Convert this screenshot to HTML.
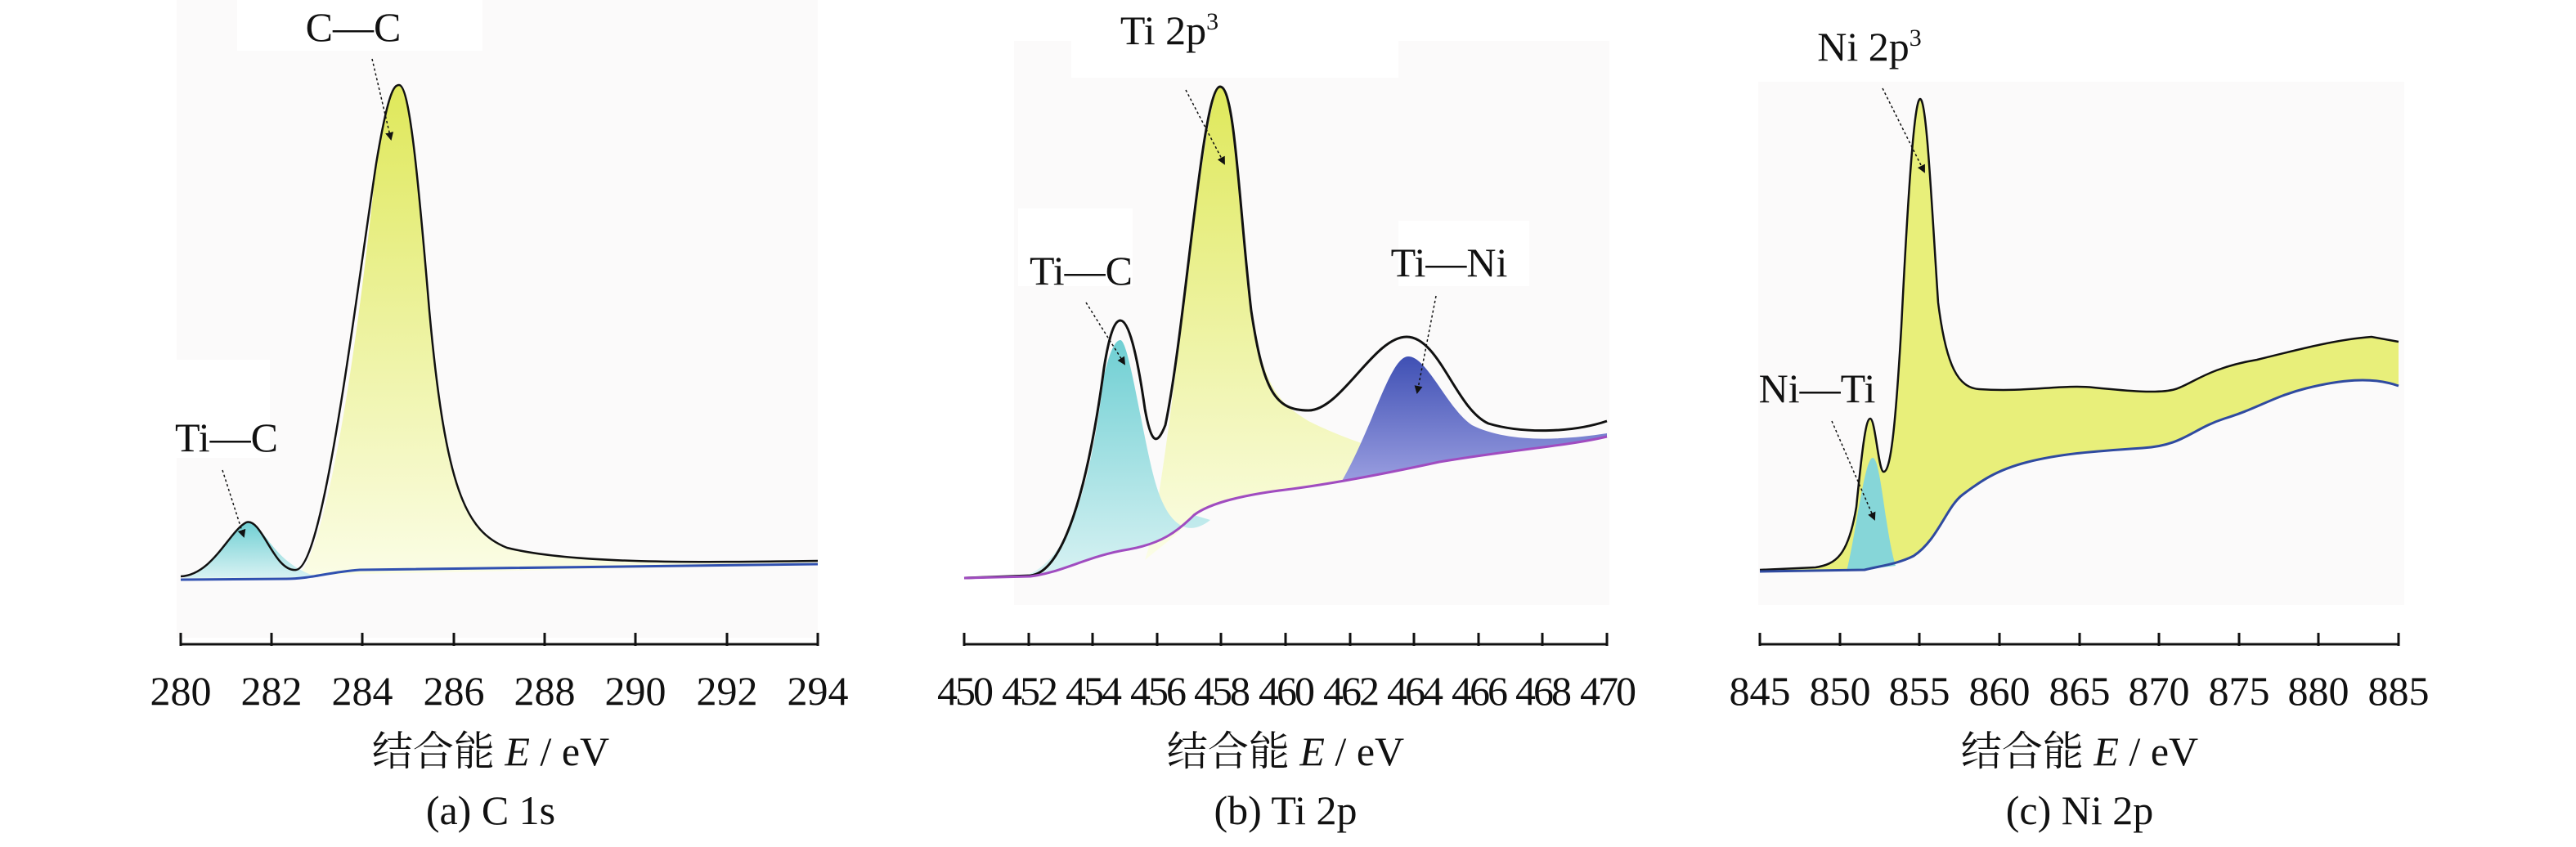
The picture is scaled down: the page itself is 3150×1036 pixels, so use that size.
<!DOCTYPE html>
<html><head><meta charset="utf-8"><style>
html,body{margin:0;padding:0;background:#fff}
svg{display:block}
text{font-family:"Liberation Serif","Noto Serif CJK SC",serif;fill:#111}
</style></head><body>
<svg width="3150" height="1036" viewBox="0 0 3150 1036" xmlns="http://www.w3.org/2000/svg">
<defs>
<linearGradient id="gy" x1="0" y1="0" x2="0" y2="1"><stop offset="0" stop-color="#dfe85a"/><stop offset="1" stop-color="#fbfde6"/></linearGradient>
<linearGradient id="gc" x1="0" y1="0" x2="0" y2="1"><stop offset="0" stop-color="#6fcfd3"/><stop offset="1" stop-color="#d8f2f3"/></linearGradient>
<linearGradient id="gb" x1="0" y1="0" x2="0" y2="1"><stop offset="0" stop-color="#3f50b4"/><stop offset="1" stop-color="#9a9ee0"/></linearGradient>
<marker id="ar" markerWidth="10" markerHeight="10" refX="8" refY="5" orient="auto" markerUnits="userSpaceOnUse"><path d="M0,0 L10,5 L0,10 Z" fill="#111"/></marker>
</defs>
<rect x="216" y="0" width="784" height="780" fill="#fbfafa"/>
<rect x="290" y="0" width="300" height="62" fill="#fff"/>
<rect x="210" y="440" width="120" height="120" fill="#fff"/>
<rect x="1240" y="50" width="728" height="690" fill="#fbfafa"/>
<rect x="1310" y="0" width="400" height="95" fill="#fff"/>
<rect x="1245" y="255" width="140" height="95" fill="#fff"/>
<rect x="1710" y="270" width="160" height="80" fill="#fff"/>
<rect x="2150" y="100" width="790" height="640" fill="#fbfafa"/>
<rect x="2150" y="0" width="600" height="100" fill="#fff"/>

<!-- Panel A -->
<path d="M360,707 C400,690 440,400 460,200 C475,110 482,104 488,104 C500,104 510,200 525,380 C545,600 570,650 620,670 C700,690 850,688 1000,686 L1000,690 L221,707 Z" fill="url(#gy)"/>
<path d="M221,707 C260,703 280,650 301,639 C320,632 330,690 390,706 Z" fill="url(#gc)"/>
<path d="M221,705 C260,703 280,650 301,639 C320,632 335,700 362,697 C395,694 430,400 460,200 C475,110 482,104 488,104 C500,104 510,200 525,380 C545,600 570,650 620,670 C700,690 850,688 1000,686" fill="none" stroke="#111" stroke-width="2.5"/>
<path d="M221,709 L350,708 C380,708 400,700 440,697 L1000,690" fill="none" stroke="#3050b0" stroke-width="3"/>
<text x="432" y="50" font-size="50" text-anchor="middle">C—C</text>
<line x1="455" y1="72" x2="478" y2="170" stroke="#111" stroke-width="1.5" stroke-dasharray="3,3" marker-end="url(#ar)"/>
<text x="277" y="552" font-size="50" text-anchor="middle">Ti—C</text>
<line x1="272" y1="575" x2="298" y2="656" stroke="#111" stroke-width="1.5" stroke-dasharray="3,3" marker-end="url(#ar)"/>

<!-- Panel B -->
<path d="M1400,685 C1430,600 1470,106 1492,106 C1510,106 1515,250 1530,380 C1545,470 1560,490 1600,515 C1650,540 1700,555 1760,565 L1580,598 C1520,605 1480,615 1460,630 C1440,655 1420,668 1400,685 Z" fill="url(#gy)"/>
<path d="M1240,707 C1300,700 1330,620 1350,460 C1358,425 1365,416 1370,416 C1380,416 1395,520 1410,580 C1425,640 1450,660 1480,636 L1460,630 C1440,650 1420,665 1380,672 C1330,680 1300,700 1260,706 Z" fill="url(#gc)"/>
<path d="M1640,590 C1680,520 1700,436 1722,436 C1745,436 1770,500 1800,520 C1840,540 1900,540 1965,530 L1965,534 C1920,545 1850,550 1760,565 Z" fill="url(#gb)"/>
<path d="M1179,707 L1260,704 C1300,700 1330,600 1350,450 C1358,400 1365,392 1370,392 C1380,392 1390,430 1400,500 C1408,545 1415,545 1425,520 C1450,400 1470,106 1492,106 C1510,106 1515,250 1530,380 C1545,480 1560,502 1600,502 C1640,502 1680,412 1720,412 C1760,412 1780,500 1820,518 C1860,530 1920,530 1965,515" fill="none" stroke="#111" stroke-width="3"/>
<path d="M1179,707 L1260,705 C1300,700 1330,680 1380,672 C1420,665 1440,650 1460,630 C1480,615 1520,605 1580,598 C1640,590 1700,578 1760,565 C1850,550 1920,545 1965,534" fill="none" stroke="#a04cc0" stroke-width="3"/>
<text x="1430" y="54" font-size="50" text-anchor="middle">Ti 2p<tspan dy="-18" font-size="30">3</tspan></text>
<line x1="1450" y1="110" x2="1497" y2="200" stroke="#111" stroke-width="1.5" stroke-dasharray="3,3" marker-end="url(#ar)"/>
<text x="1322" y="348" font-size="50" text-anchor="middle">Ti—C</text>
<line x1="1328" y1="370" x2="1375" y2="445" stroke="#111" stroke-width="1.5" stroke-dasharray="3,3" marker-end="url(#ar)"/>
<text x="1772" y="338" font-size="50" text-anchor="middle">Ti—Ni</text>
<line x1="1756" y1="362" x2="1733" y2="480" stroke="#111" stroke-width="1.5" stroke-dasharray="3,3" marker-end="url(#ar)"/>

<!-- Panel C -->
<path d="M2152,697 L2220,694 C2245,690 2260,680 2270,620 C2278,540 2282,512 2287,512 C2293,512 2297,575 2303,577 C2312,579 2318,520 2325,400 C2335,200 2342,121 2348,121 C2356,121 2362,250 2370,370 C2380,450 2395,474 2420,476 C2480,480 2520,470 2560,474 C2600,478 2640,482 2660,476 C2680,470 2700,450 2760,440 C2820,425 2860,415 2900,412 L2933,418 L2933,472 C2900,460 2860,465 2820,475 C2780,485 2760,500 2720,512 C2680,525 2670,545 2620,548 C2560,552 2520,555 2480,565 C2440,575 2420,590 2400,605 C2380,620 2370,660 2340,680 C2320,690 2300,692 2280,697 L2152,699 Z" fill="#e8ef7a"/>
<path d="M2258,699 C2270,650 2280,560 2290,560 C2300,560 2305,650 2318,692 Z" fill="#86d6d8"/>
<path d="M2152,697 L2220,694 C2245,690 2260,680 2270,620 C2278,540 2282,512 2287,512 C2293,512 2297,575 2303,577 C2312,579 2318,520 2325,400 C2335,200 2342,121 2348,121 C2356,121 2362,250 2370,370 C2380,450 2395,474 2420,476 C2480,480 2520,470 2560,474 C2600,478 2640,482 2660,476 C2680,470 2700,450 2760,440 C2820,425 2860,415 2900,412 L2933,418" fill="none" stroke="#111" stroke-width="2.5"/>
<path d="M2933,472 C2900,460 2860,465 2820,475 C2780,485 2760,500 2720,512 C2680,525 2670,545 2620,548 C2560,552 2520,555 2480,565 C2440,575 2420,590 2400,605 C2380,620 2370,660 2340,680 C2320,690 2300,692 2280,697 L2152,699" fill="none" stroke="#2f4aa0" stroke-width="3"/>
<text x="2286" y="74" font-size="50" text-anchor="middle">Ni 2p<tspan dy="-18" font-size="30">3</tspan></text>
<line x1="2302" y1="108" x2="2353" y2="210" stroke="#111" stroke-width="1.5" stroke-dasharray="3,3" marker-end="url(#ar)"/>
<text x="2222" y="492" font-size="50" text-anchor="middle">Ni—Ti</text>
<line x1="2240" y1="515" x2="2292" y2="635" stroke="#111" stroke-width="1.5" stroke-dasharray="3,3" marker-end="url(#ar)"/>

<g stroke="#111" stroke-width="3" fill="none">
<line x1="221" y1="788" x2="1000" y2="788"/>
<line x1="1179" y1="788" x2="1965" y2="788"/>
<line x1="2152" y1="788" x2="2933" y2="788"/>
</g>
<g stroke="#111" stroke-width="3">
<line x1="221" y1="774" x2="221" y2="790"/><line x1="332" y1="774" x2="332" y2="790"/><line x1="443" y1="774" x2="443" y2="790"/><line x1="555" y1="774" x2="555" y2="790"/><line x1="666" y1="774" x2="666" y2="790"/><line x1="777" y1="774" x2="777" y2="790"/><line x1="889" y1="774" x2="889" y2="790"/><line x1="1000" y1="774" x2="1000" y2="790"/>
<line x1="1179" y1="774" x2="1179" y2="790"/><line x1="1258" y1="774" x2="1258" y2="790"/><line x1="1336" y1="774" x2="1336" y2="790"/><line x1="1415" y1="774" x2="1415" y2="790"/><line x1="1493" y1="774" x2="1493" y2="790"/><line x1="1572" y1="774" x2="1572" y2="790"/><line x1="1651" y1="774" x2="1651" y2="790"/><line x1="1729" y1="774" x2="1729" y2="790"/><line x1="1808" y1="774" x2="1808" y2="790"/><line x1="1886" y1="774" x2="1886" y2="790"/><line x1="1965" y1="774" x2="1965" y2="790"/>
<line x1="2152" y1="774" x2="2152" y2="790"/><line x1="2250" y1="774" x2="2250" y2="790"/><line x1="2347" y1="774" x2="2347" y2="790"/><line x1="2445" y1="774" x2="2445" y2="790"/><line x1="2543" y1="774" x2="2543" y2="790"/><line x1="2640" y1="774" x2="2640" y2="790"/><line x1="2738" y1="774" x2="2738" y2="790"/><line x1="2835" y1="774" x2="2835" y2="790"/><line x1="2933" y1="774" x2="2933" y2="790"/>
</g>
<g font-size="50" text-anchor="middle">
<text x="221" y="862">280</text><text x="332" y="862">282</text><text x="443" y="862">284</text><text x="555" y="862">286</text><text x="666" y="862">288</text><text x="777" y="862">290</text><text x="889" y="862">292</text><text x="1000" y="862">294</text>
<text x="1179" y="862" letter-spacing="-3">450</text><text x="1258" y="862" letter-spacing="-3">452</text><text x="1336" y="862" letter-spacing="-3">454</text><text x="1415" y="862" letter-spacing="-3">456</text><text x="1493" y="862" letter-spacing="-3">458</text><text x="1572" y="862" letter-spacing="-3">460</text><text x="1651" y="862" letter-spacing="-3">462</text><text x="1729" y="862" letter-spacing="-3">464</text><text x="1808" y="862" letter-spacing="-3">466</text><text x="1886" y="862" letter-spacing="-3">468</text><text x="1965" y="862" letter-spacing="-3">470</text>
<text x="2152" y="862">845</text><text x="2250" y="862">850</text><text x="2347" y="862">855</text><text x="2445" y="862">860</text><text x="2543" y="862">865</text><text x="2640" y="862">870</text><text x="2738" y="862">875</text><text x="2835" y="862">880</text><text x="2933" y="862">885</text>
</g>
<g font-size="50" text-anchor="middle">
<text x="600" y="936">结合能 <tspan font-style="italic">E</tspan> / eV</text>
<text x="1572" y="936">结合能 <tspan font-style="italic">E</tspan> / eV</text>
<text x="2543" y="936">结合能 <tspan font-style="italic">E</tspan> / eV</text>
<text x="600" y="1008">(a) C 1s</text>
<text x="1572" y="1008">(b) Ti 2p</text>
<text x="2543" y="1008">(c) Ni 2p</text>
</g>
</svg>
</body></html>
